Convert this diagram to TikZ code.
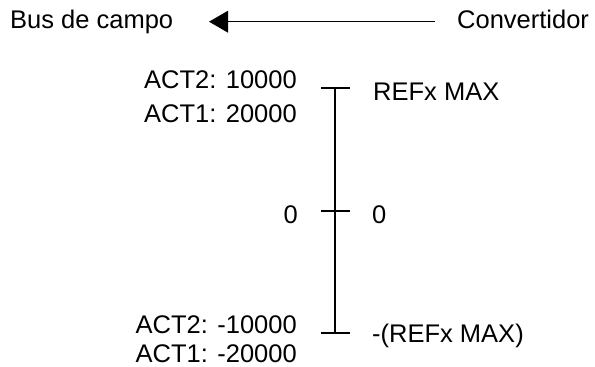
\documentclass[tikz,border=0pt]{standalone}
\usepackage{fontspec}
\setmainfont{Liberation Sans}
\usetikzlibrary{arrows.meta}
\begin{document}
\begin{tikzpicture}[x=1pt,y=-1pt,
  lbl/.style={inner sep=0pt,font=\fontsize{25.5}{30}\selectfont},
  lblL/.style={lbl,anchor=base east},
  lblR/.style={lbl,anchor=base west},
  axis/.style={line width=1.5pt},
  flow/.style={line width=1.5pt,-{Triangle[length=19pt,width=21.6pt]}}]
\useasboundingbox (0,0) rectangle (595,367);
% header
\node[lblR] (bus) at (10,28) {Bus de campo};
\node[lblR] (conv) at (457,28) {Convertidor};
\coordinate (aS) at (435,21.7);
\coordinate (aE) at (209,21.7);
\draw[flow] (aS) -- (aE);
% scale axis
\coordinate (top) at (335,88);
\coordinate (mid) at (335,211);
\coordinate (bot) at (335,333);
\coordinate (tL) at (321,88);  \coordinate (tR) at (350,88);
\coordinate (mL) at (321,211); \coordinate (mR) at (350,211);
\coordinate (bL) at (321,333); \coordinate (bR) at (350,333);
\draw[axis] (top) -- (bot);
\draw[axis] (tL) -- (tR);
\draw[axis] (mL) -- (mR);
\draw[axis] (bL) -- (bR);
% labels
\node[lblL] (a2p) at (297,88) {ACT2: 10000};
\node[lblL] (a1p) at (297,122) {ACT1: 20000};
\node[lblR] (rmax) at (373,100) {REFx MAX};
\node[lblL] (zl) at (298,223) {0};
\node[lblR] (zr) at (372,223) {0};
\node[lblL] (a2n) at (297,333) {ACT2: -10000};
\node[lblL] (a1n) at (297,362) {ACT1: -20000};
\node[lblR] (rmin) at (372,342) {-(REFx MAX)};
\end{tikzpicture}
\end{document}
